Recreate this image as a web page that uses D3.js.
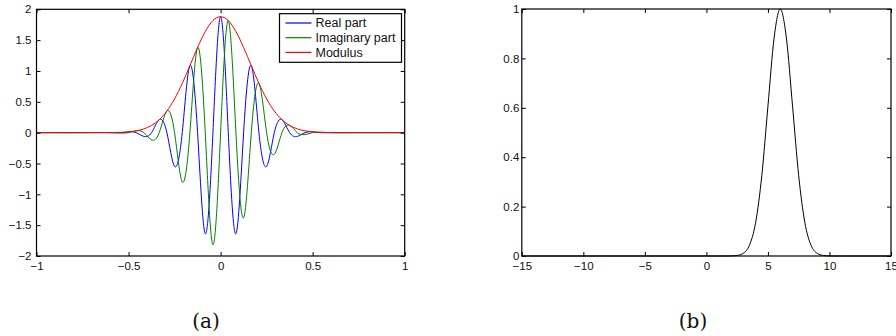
<!DOCTYPE html>
<html><head><meta charset="utf-8">
<script src="https://cdn.jsdelivr.net/npm/d3@7"></script>
<style>
body{margin:0;background:#fff;}
</style></head>
<body><svg id="c" width="896" height="336"></svg>
<script>
// Panel (a): time samples and series
const tVals = [-1, -0.75, -0.625, -0.5417, -0.5, -0.4583, -0.4167, -0.375, -0.3333, -0.2917, -0.25, -0.2083, -0.1667, -0.125, -0.0833, -0.0417, 0, 0.0417, 0.0833, 0.125, 0.1667, 0.2083, 0.25, 0.2917, 0.3333, 0.375, 0.4167, 0.4583, 0.5, 0.5417, 0.625, 0.75, 1];
const realPart = [0, 0, 0, 0, 0.0135, 0, -0.061, 0, 0.210, 0, -0.547, 0, 1.086, 0, -1.639, 0, 1.88, 0, -1.639, 0, 1.086, 0, -0.547, 0, 0.210, 0, -0.061, 0, 0.0135, 0, 0, 0, 0];
const imagPart = [0, 0, 0.001, -0.0057, 0, 0.030, 0, -0.117, 0, 0.351, 0, -0.798, 0, 1.381, 0, -1.817, 0, 1.817, 0, -1.381, 0, 0.798, 0, -0.351, 0, 0.117, 0, -0.030, 0, 0.0057, -0.001, 0, 0];
const modulus = [0, 0, 0.0008, 0.0057, 0.0135, 0.030, 0.061, 0.117, 0.210, 0.351, 0.547, 0.798, 1.086, 1.381, 1.639, 1.817, 1.88, 1.817, 1.639, 1.381, 1.086, 0.798, 0.547, 0.351, 0.210, 0.117, 0.061, 0.030, 0.0135, 0.0057, 0.0008, 0, 0];
const xTicksA = [-1, -0.5, 0, 0.5, 1];
const yTicksA = [-2, -1.5, -1, -0.5, 0, 0.5, 1, 1.5, 2];
const legendLabels = ["Real part", "Imaginary part", "Modulus"];
const seriesColors = ["#0000ff", "#008000", "#ff0000"];

// Panel (b): frequency samples
const wVals = [-15, 0, 1, 1.5, 2, 2.5, 3, 3.5, 4, 4.5, 5, 5.5, 6, 6.5, 7, 7.5, 8, 8.5, 9, 9.5, 10, 10.5, 11, 15];
const spectrum = [0, 0, 0, 0, 0.0003, 0.0022, 0.0111, 0.0439, 0.1353, 0.3247, 0.6065, 0.8825, 1, 0.8825, 0.6065, 0.3247, 0.1353, 0.0439, 0.0111, 0.0022, 0.0003, 0, 0, 0];
const xTicksB = [-15, -10, -5, 0, 5, 10, 15];
const yTicksB = [0, 0.2, 0.4, 0.6, 0.8, 1];
const captions = ["(a)", "(b)"];

const SANS = "'Liberation Sans',Arial,Helvetica,sans-serif";
const svg = d3.select("#c");
const fmt = d => String(d).replace("-", "\u2212");

function frame(g, x, y, xt, yt, padY) {
  const [x0, x1] = x.range(), [y0, y1] = y.range();
  const ax = g.append("g").attr("transform", `translate(0,${y0})`)
    .call(d3.axisBottom(x).tickValues(xt).tickSizeInner(-4).tickSizeOuter(0).tickPadding(6).tickFormat(fmt));
  const ay = g.append("g").attr("transform", `translate(${x0},0)`)
    .call(d3.axisLeft(y).tickValues(yt).tickSizeInner(-4).tickSizeOuter(0).tickPadding(padY).tickFormat(fmt));
  const at = g.append("g").attr("transform", `translate(0,${y1})`)
    .call(d3.axisTop(x).tickValues(xt).tickSizeInner(-4).tickSizeOuter(0).tickFormat(""));
  const ar = g.append("g").attr("transform", `translate(${x1},0)`)
    .call(d3.axisRight(y).tickValues(yt).tickSizeInner(-4).tickSizeOuter(0).tickFormat(""));
  [ax, ay, at, ar].forEach(a => {
    a.attr("font-family", null).attr("font-size", null);
    a.select(".domain").remove();
    a.selectAll("line").attr("stroke", "#000");
    a.selectAll("text").style("font-size", "11.5px").style("fill", "#111").style("font-family", SANS);
  });
  g.append("rect").attr("x", x0).attr("y", y1).attr("width", x1 - x0).attr("height", y0 - y1)
    .attr("fill", "none").attr("stroke", "#000").attr("stroke-width", 1.2);
}

// Panel (a)
const xa = d3.scaleLinear().domain([-1, 1]).range([36.5, 404.7]);
const ya = d3.scaleLinear().domain([-2, 2]).range([256, 9.3]);
const ga = svg.append("g");
const lineA = vals => d3.line().x((d, i) => xa(tVals[i])).y(d => ya(d)).curve(d3.curveNatural)(vals);
[realPart, imagPart, modulus].forEach((s, k) => {
  ga.append("path").attr("d", lineA(s)).attr("fill", "none")
    .attr("stroke", seriesColors[k]).attr("stroke-width", 1);
});
frame(ga, xa, ya, xTicksA, yTicksA, 5);

// legend
const lg = ga.append("g");
lg.append("rect").attr("x", 279.5).attr("y", 13.7).attr("width", 122).attr("height", 48.6)
  .attr("fill", "#fff").attr("stroke", "#000").attr("stroke-width", 1.2);
legendLabels.forEach((lab, k) => {
  const yy = 23 + k * 14.7;
  lg.append("line").attr("x1", 285.5).attr("x2", 311.5).attr("y1", yy).attr("y2", yy)
    .attr("stroke", seriesColors[k]).attr("stroke-width", 1.2);
  lg.append("text").attr("x", 315.5).attr("y", yy + 4.3)
    .style("font-size", "12.5px").style("font-family", SANS)
    .style("fill", "#111").text(lab);
});

// Panel (b)
const xb = d3.scaleLinear().domain([-15, 15]).range([521.8, 891]);
const yb = d3.scaleLinear().domain([0, 1]).range([256, 9]);
const gb = svg.append("g");
gb.append("path")
  .attr("d", d3.line().x((d, i) => xb(wVals[i])).y(d => yb(d)).curve(d3.curveMonotoneX)(spectrum))
  .attr("fill", "none").attr("stroke", "#000").attr("stroke-width", 1);
frame(gb, xb, yb, xTicksB, yTicksB, 2.5);

// captions
[[206, captions[0]], [693, captions[1]]].forEach(([cx, t]) => {
  svg.append("text").attr("x", cx).attr("y", 327.5).attr("text-anchor", "middle")
    .style("font-family", "'DejaVu Serif','Liberation Serif',serif").style("font-size", "20px")
    .style("fill", "#111").text(t);
});
</script></body></html>
